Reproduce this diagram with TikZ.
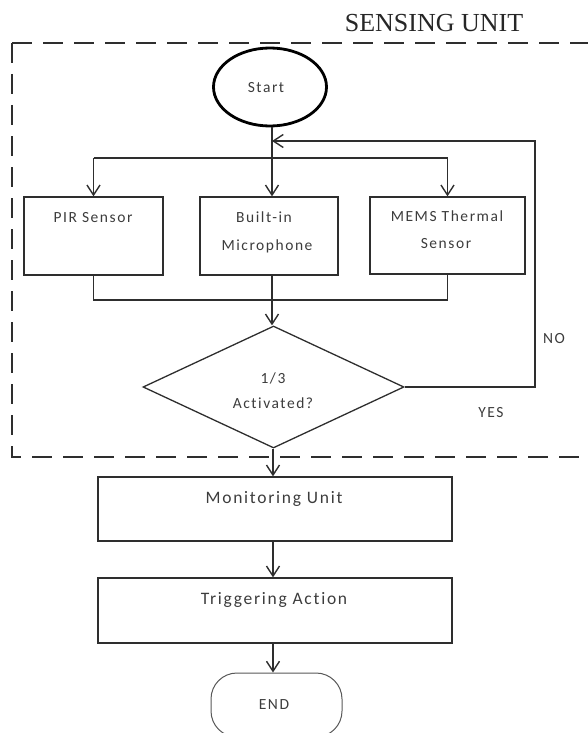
\documentclass[tikz,border=0pt]{standalone}
\usepackage{fontspec}
\usetikzlibrary{arrows.meta,shapes.geometric}
\newfontfamily\calfont[LetterSpace=10,Ligatures=NoCommon]{Carlito}
\newfontfamily\titlefont{Liberation Serif}
\definecolor{ln}{HTML}{2E2E2E}
\definecolor{tx}{HTML}{3C3C3C}
\begin{document}
\begin{tikzpicture}[x=1pt,y=-1pt,
  line/.style={draw=ln,line width=1.3pt},
  arr/.style={line,-{Straight Barb[length=10pt,width=13pt,line width=1.4pt]}},
  frame/.style={draw=ln,line width=1.4pt,dash pattern=on 20pt off 11pt},
  box/.style={line,rectangle,inner sep=0pt},
  txt/.style={font=\calfont\fontsize{15.5}{19}\selectfont,text=tx,inner sep=0pt,anchor=base},
  btxt/.style={font=\calfont\fontsize{17.5}{21}\selectfont,text=tx,inner sep=0pt,anchor=base}]
\useasboundingbox (0,0) rectangle (588,733);
% title and frame
\node[font=\titlefont\fontsize{26}{30}\selectfont,text=black!85,anchor=base,inner sep=0pt] (title) at (434,32) {SENSING UNIT};
\coordinate (ftl) at (12,43);
\coordinate (ftr) at (600,43);
\coordinate (fbl) at (12,457);
\coordinate (fbr) at (600,457);
\draw[frame] (ftl) -- (ftr);
\draw[frame] (ftl) -- (fbl) -- (fbr);
% nodes
\node[draw=black,line width=2.8pt,ellipse,minimum width=113pt,minimum height=78pt,inner sep=0pt] (start) at (270,87) {};
\node[txt] (startt) at (266,93) {Start};
\node[box,minimum width=139pt,minimum height=78pt] (pir) at (93.5,236) {};
\node[txt] (pirt) at (93,222) {PIR Sensor};
\node[box,minimum width=138pt,minimum height=78pt] (mic) at (269,236) {};
\node[txt] (mict1) at (264,222) {Built-in};
\node[txt] (mict2) at (267,250) {Microphone};
\node[box,minimum width=155pt,minimum height=77pt] (mems) at (447.5,235.5) {};
\node[txt] (memst1) at (447,221) {MEMS Thermal};
\node[txt] (memst2) at (446,248) {Sensor};
\node[line,diamond,minimum width=261pt,minimum height=122pt,inner sep=0pt] (dec) at (273.5,387) {};
\node[txt] (dect1) at (273,383) {1/3};
\node[txt] (dect2) at (273,408) {Activated?};
\node[box,minimum width=354pt,minimum height=64pt] (mon) at (275,509) {};
\node[btxt] (mont) at (274,503) {Monitoring Unit};
\node[box,minimum width=354pt,minimum height=65pt] (trig) at (275,610.5) {};
\node[btxt] (trigt) at (274,604) {Triggering Action};
\node[draw=ln!80,line width=1pt,rectangle,rounded corners=26pt,minimum width=131pt,minimum height=64pt,inner sep=0pt] (end) at (276.5,705) {};
\node[txt] (endt) at (274,709) {END};
\node[txt] (no) at (554,343) {NO};
\node[txt] (yes) at (491,417) {YES};
% connectors
\coordinate (sp) at (272,158);
\coordinate (jn) at (272,300);
\coordinate (fb) at (535,141);
\draw[arr] (start.south -| sp) -- (sp |- mic.north);
\draw[line] (sp -| pir.north) -- (sp -| mems.north);
\draw[arr] (sp -| pir.north) -- (pir.north);
\draw[arr] (sp -| mems.north) -- (mems.north);
\draw[line] (pir.south) -- (jn -| pir.south) -- (jn -| mems.south) -- (mems.south);
\draw[arr] (mic.south -| jn) -- (jn |- dec.north);
\draw[arr] (dec.east) -| (fb) -- (fb -| sp);
\draw[arr] (dec.south -| 273,0) -- (273,0 |- mon.north);
\draw[arr] (mon.south -| 273,0) -- (273,0 |- trig.north);
\draw[arr] (trig.south -| 273,0) -- (273,0 |- end.north);
\end{tikzpicture}
\end{document}
